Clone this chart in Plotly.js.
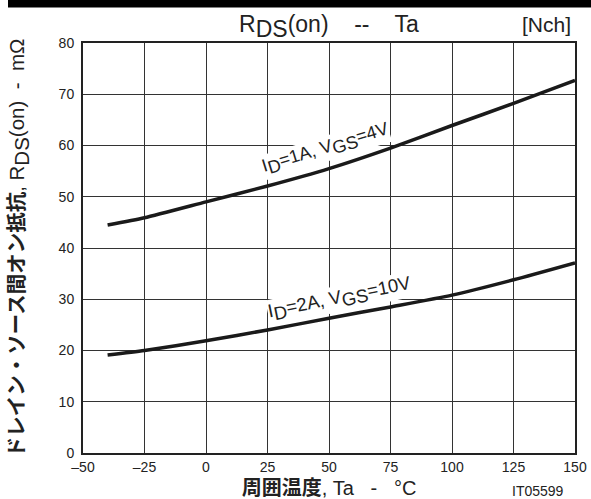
<!DOCTYPE html>
<html>
<head>
<meta charset="utf-8">
<script src="https://cdn.plot.ly/plotly-3.0.1.min.js"></script>
<style>html,body{margin:0;padding:0;background:#fff;}#chart{width:591px;height:499px;}</style>
</head>
<body>
<div id="chart"></div>
<script>
// Data
const temps = [-40, -25, 0, 25, 50, 75, 100, 125, 150];
const rdsId1Vgs4 = [44.5, 45.9, 49.0, 52.1, 55.5, 59.5, 63.9, 68.2, 72.7];
const rdsId2Vgs10 = [19.1, 20.0, 21.9, 24.0, 26.3, 28.5, 30.8, 33.8, 37.1];
const xTickVals = [-50, -25, 0, 25, 50, 75, 100, 125, 150];
const xTickText = ['–50', '–25', '0', '25', '50', '75', '100', '125', '150'];
const yTickVals = [0, 10, 20, 30, 40, 50, 60, 70, 80];
const sub = (t, s) => `<sub><span style="font-size:${s}px">${t}</span></sub>`;
const seriesLabels = [
  `I${sub('D', 18)}=1A, V${sub('GS', 18)}=4V`,
  `I${sub('D', 18.5)}=2A, V${sub('GS', 18.5)}=10V`
];

const W = 591, H = 499;
const L = 83, R = 16, T = 43, B = 46;
const pw = W - L - R, ph = H - T - B;
const px2paperX = p => (p - L) / pw;
const px2paperY = p => (H - B - p) / ph;

const fontLatin = 'Liberation Sans, Arial, Noto Sans CJK JP, sans-serif';

const traces = [
  {x: temps, y: rdsId1Vgs4, mode: 'lines', line: {color: '#1a1a1a', width: 3.5, shape: 'spline', smoothing: 0.6}, hoverinfo: 'skip'},
  {x: temps, y: rdsId2Vgs10, mode: 'lines', line: {color: '#1a1a1a', width: 3.5, shape: 'spline', smoothing: 0.6}, hoverinfo: 'skip'}
];

const layout = {
  width: W, height: H,
  margin: {l: L, r: R, t: T, b: B, pad: 0},
  paper_bgcolor: '#fff', plot_bgcolor: '#fff',
  showlegend: false,
  font: {family: fontLatin, color: '#222', size: 14},
  title: {text: `R${sub('DS', 23)}(on)    --    Ta`, x: px2paperX(329), xref: 'paper', xanchor: 'center', y: 1 - 24 / H, yanchor: 'middle', font: {size: 23, color: '#222', family: fontLatin}},
  xaxis: {
    range: [-50, 150], tickvals: xTickVals, ticktext: xTickText, ticks: '',
    showgrid: true, gridcolor: '#333', gridwidth: 1, zeroline: false,
    showline: true, linecolor: '#222', linewidth: 2, mirror: true,
    tickfont: {size: 14, color: '#222'},
    title: {text: '<b>周囲温度</b>, Ta   -   °C', font: {size: 20, color: '#222', family: fontLatin}, standoff: 8}
  },
  yaxis: {
    range: [0, 80], tickvals: yTickVals, ticks: '',
    showgrid: true, gridcolor: '#333', gridwidth: 1, zeroline: false,
    showline: true, linecolor: '#222', linewidth: 2, mirror: true,
    tickfont: {size: 14, color: '#222'}, ticklabelstandoff: 4,
    title: {text: `<b>ドレイン・ソース間オン抵抗</b>, R${sub('DS', 20.5)}(on)  -  mΩ`, font: {size: 20.5, color: '#222', family: fontLatin}, standoff: 28}
  },
  shapes: [
    {type: 'rect', xref: 'paper', yref: 'paper', x0: px2paperX(8), x1: px2paperX(591), y0: px2paperY(7.5), y1: px2paperY(0), fillcolor: '#000', line: {width: 0}, layer: 'above'}
  ],
  annotations: [
    {text: '[Nch]', xref: 'paper', yref: 'paper', x: px2paperX(546), y: px2paperY(24.5), xanchor: 'center', yanchor: 'middle', showarrow: false, font: {size: 21, color: '#222'}},
    {text: 'IT05599', xref: 'paper', yref: 'paper', x: px2paperX(538), y: px2paperY(491), xanchor: 'center', yanchor: 'middle', showarrow: false, font: {size: 14, color: '#222'}},
    {text: seriesLabels[0], x: 48.5, y: 59.3, xref: 'x', yref: 'y', xanchor: 'center', yanchor: 'middle', showarrow: false, textangle: -17, bgcolor: '#fff', borderpad: 0, font: {size: 18, color: '#222'}},
    {text: seriesLabels[1], x: 54.5, y: 30.1, xref: 'x', yref: 'y', xanchor: 'center', yanchor: 'middle', showarrow: false, textangle: -11.5, bgcolor: '#fff', borderpad: 0, font: {size: 18.5, color: '#222'}}
  ]
};

Plotly.newPlot('chart', traces, layout, {staticPlot: true, displayModeBar: false});
</script>
</body>
</html>
